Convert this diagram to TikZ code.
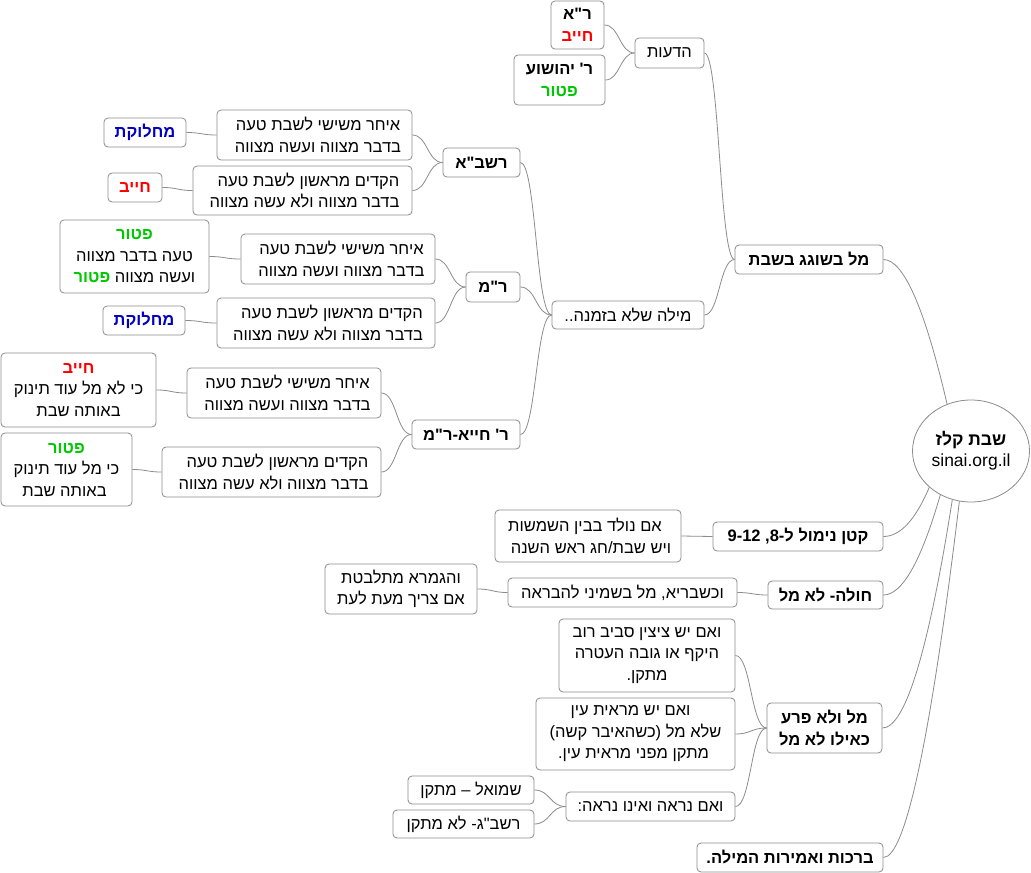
\documentclass[tikz,border=0pt]{standalone}
\usepackage{fontspec}
\setmainfont{Liberation Sans}
\newfontfamily\heb[Script=Hebrew,Ligatures=TeXOff]{Liberation Sans}
\TeXXeTstate=1
\usetikzlibrary{shapes.geometric,calc}
\newcommand\rl[1]{\beginR #1\endR}
\newcommand\pad[1]{\hspace*{#1pt}}
\definecolor{cred}{HTML}{FF0000}
\definecolor{cgreen}{HTML}{00C800}
\definecolor{cblue}{HTML}{0000C0}
\definecolor{edge}{HTML}{8C8C8C}
\newcommand\red[1]{{\color{cred}\bfseries\rl{#1}}}
\newcommand\grn[1]{{\color{cgreen}\bfseries\rl{#1}}}
\newcommand\blu[1]{{\color{cblue}\bfseries\rl{#1}}}
\newcommand\late{\pad{7}\rl{איחר משישי לשבת טעה}\\\pad{7}\rl{בדבר מצווה ועשה מצווה}}
\newcommand\early{\pad{12}\rl{הקדים מראשון לשבת טעה}\\\pad{4}\rl{בדבר מצווה ולא עשה מצווה}}
\tikzset{
  box/.style={draw=edge, line width=0.8pt, rounded corners=4pt, fill=white,
    inner sep=0pt, align=center, font=\heb\fontsize{16.5}{21.5}\selectfont},
  mainbox/.style={box, font=\heb\bfseries\fontsize{16.5}{21.5}\selectfont},
  link/.style={draw=edge, line width=0.8pt},
  branch/.style={to path={let \p1=(\tikztostart), \p2=(\tikztotarget),
    \n1={(\x2-\x1)/2}, \n2={(\x1-\x2)/2} in
    .. controls +(\n1,0) and +(\n2,0) .. (\tikztotarget)}},
  rootlink/.style={to path={let \p1=(\tikztostart), \p2=(\tikztotarget) in
    .. controls ($(\p1)!0.6667!(\x2+#1,\y2)$) and ($(\p2)!0.6667!(\x2+#1,\y2)$)
    .. (\tikztotarget)}}
}
\begin{document}
\begin{tikzpicture}[x=1pt,y=-1pt]
\useasboundingbox[fill=white] (0,0) rectangle (1031,873);

% root
\node[draw=edge, line width=0.8pt, ellipse, fill=white, minimum width=117, minimum height=102,
  inner sep=0pt, align=center, font=\fontsize{17.5}{21}\selectfont] (root) at (971,451)
  {\makebox[40pt]{\heb\bfseries\rl{שבת קלז}}\\\makebox[40pt]{sinai.org.il}};

% level 1
\node[mainbox, minimum width=148, minimum height=29] (n1) at (809,259.5) {\rl{מל בשוגג בשבת}};
\node[mainbox, minimum width=170, minimum height=29] (n2) at (798,536.5) {\rl{קטן נימול ל-8, 9-12}};
\node[mainbox, minimum width=115, minimum height=28] (n3) at (825.5,595) {\rl{חולה- לא מל}};
\node[mainbox, minimum width=115, minimum height=50] (n4) at (824.5,728) {\rl{מל ולא פרע}\\\rl{כאילו לא מל}};
\node[mainbox, minimum width=186, minimum height=29] (n5) at (790,857.5) {\rl{ברכות ואמירות המילה.}};

% under n1
\node[box, minimum width=69, minimum height=30] (n11) at (669.5,53) {\rl{הדעות}};
\node[mainbox, minimum width=53, minimum height=48] (n111) at (577.5,25) {\rl{ר"א}\\\red{חייב}};
\node[mainbox, minimum width=91, minimum height=50] (n112) at (559.5,80) {\rl{ר' יהושוע}\\\grn{פטור}};
\node[box, minimum width=152, minimum height=28] (n12) at (628,315) {\rl{מילה שלא בזמנה..}};

% rashba
\node[mainbox, minimum width=77, minimum height=29] (n121) at (481.5,162.5) {\rl{רשב"א}};
\node[box, minimum width=195, minimum height=50] (n1211) at (314.5,135) {\late};
\node[box, minimum width=82, minimum height=29] (n12111) at (145,132.5) {\blu{מחלוקת}};
\node[box, minimum width=219, minimum height=49] (n1212) at (302.5,190.5) {\early};
\node[box, minimum width=54, minimum height=29] (n12121) at (135,187.5) {\red{חייב}};

% r"m
\node[mainbox, minimum width=54, minimum height=30] (n122) at (493,287) {\rl{ר"מ}};
\node[box, minimum width=194, minimum height=50] (n1221) at (338,259) {\late};
\node[box, minimum width=149, minimum height=73] (n12211) at (134.5,256.5) {\grn{פטור}\\\rl{טעה בדבר מצווה}\\\grn{פטור}\ \rl{ועשה מצווה}};
\node[box, minimum width=218, minimum height=50] (n1222) at (326,323) {\early};
\node[box, minimum width=82, minimum height=29] (n12221) at (144,320.5) {\blu{מחלוקת}};

% r' hiya
\node[mainbox, minimum width=108, minimum height=29] (n123) at (466,434.5) {\rl{ר' חייא-ר"מ}};
\node[box, minimum width=194, minimum height=50] (n1231) at (284,393) {\late};
\node[box, minimum width=155, minimum height=74] (n12311) at (78.5,390) {\red{חייב}\\\rl{כי לא מל עוד תינוק}\\\rl{באותה שבת}};
\node[box, minimum width=219, minimum height=50] (n1232) at (271.5,472) {\early};
\node[box, minimum width=131, minimum height=73] (n12321) at (66.5,469.5) {\grn{פטור}\\\rl{כי מל עוד תינוק}\\\rl{באותה שבת}\pad{4}};

% under n2, n3
\node[box, minimum width=186, minimum height=52] (n21) at (588,536) {\rl{אם נולד בבין השמשות}\pad{6}\\\pad{6}\rl{ויש שבת/חג ראש השנה}};
\node[box, minimum width=229, minimum height=29] (n31) at (622.5,592.5) {\rl{וכשבריא, מל בשמיני להבראה}};
\node[box, minimum width=152, minimum height=50] (n311) at (401,589) {\rl{והגמרא מתלבטת}\\\rl{אם צריך מעת לעת}};

% under n4
\node[box, minimum width=176, minimum height=73] (n41) at (647,655.5) {\rl{ואם יש ציצין סביב רוב}\\\rl{היקף או גובה העטרה}\\\rl{מתקן.}};
\node[box, minimum width=199, minimum height=72] (n42) at (635.5,734) {\rl{ואם יש מראית עין}\pad{10}\\\rl{שלא מל (כשהאיבר קשה)}\\\rl{מתקן מפני מראית עין.}\pad{4}};
\node[box, minimum width=169, minimum height=29] (n43) at (650.5,806.5) {\rl{ואם נראה ואינו נראה:}};
\node[box, minimum width=126, minimum height=28] (n431) at (471,790) {\rl{שמואל – מתקן}};
\node[box, minimum width=141, minimum height=28] (n432) at (463.5,824) {\rl{רשב"ג- לא מתקן}};

% root links
\draw[link] (root.117) to[rootlink=30pt] (n1.east);
\draw[link] (root.221) to[rootlink=25pt] (n2.east);
\draw[link] (root.235) to[rootlink=28pt] (n3.east);
\draw[link] (root.249) to[rootlink=34pt] (n4.east);
\draw[link] (root.257) to[rootlink=33pt] (n5.east);

% branches
\draw[link] (n1.west) to[branch] (n11.east);
\draw[link] (n1.west) to[branch] (n12.east);
\draw[link] (n11.west) to[branch] (n111.east);
\draw[link] (n11.west) to[branch] (n112.east);
\draw[link] (n12.west) to[branch] (n121.east);
\draw[link] (n12.west) to[branch] (n122.east);
\draw[link] (n12.west) to[branch] (n123.east);
\draw[link] (n121.west) to[branch] (n1211.east);
\draw[link] (n121.west) to[branch] (n1212.east);
\draw[link] (n1211.west) to[branch] (n12111.east);
\draw[link] (n1212.west) to[branch] (n12121.east);
\draw[link] (n122.west) to[branch] (n1221.east);
\draw[link] (n122.west) to[branch] (n1222.east);
\draw[link] (n1221.west) to[branch] (n12211.east);
\draw[link] (n1222.west) to[branch] (n12221.east);
\draw[link] (n123.west) to[branch] (n1231.east);
\draw[link] (n123.west) to[branch] (n1232.east);
\draw[link] (n1231.west) to[branch] (n12311.east);
\draw[link] (n1232.west) to[branch] (n12321.east);
\draw[link] (n2.west) to[branch] (n21.east);
\draw[link] (n3.west) to[branch] (n31.east);
\draw[link] (n31.west) to[branch] (n311.east);
\draw[link] (n4.west) to[branch] (n41.east);
\draw[link] (n4.west) to[branch] (n42.east);
\draw[link] (n4.west) to[branch] (n43.east);
\draw[link] (n43.west) to[branch] (n431.east);
\draw[link] (n43.west) to[branch] (n432.east);
\end{tikzpicture}
\end{document}
